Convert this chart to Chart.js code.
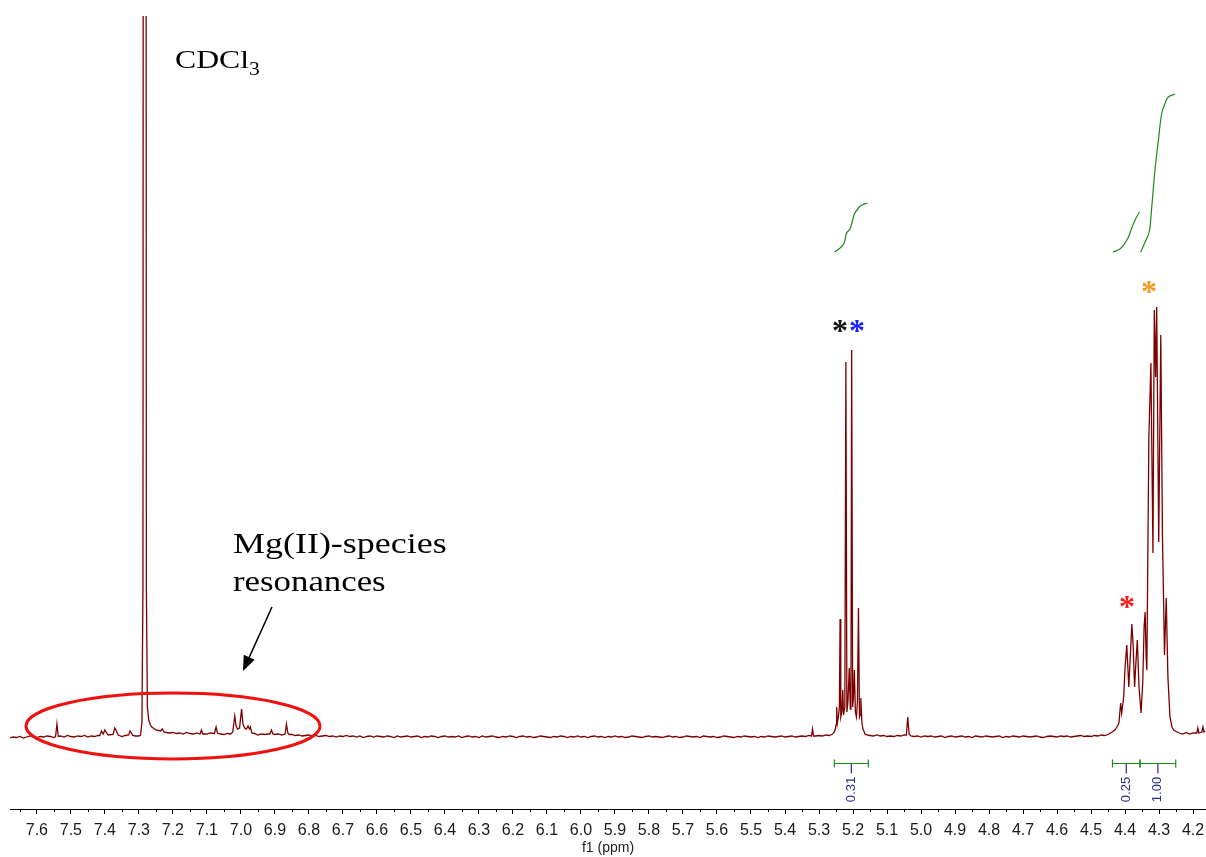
<!DOCTYPE html>
<html><head><meta charset="utf-8">
<script src="https://cdn.jsdelivr.net/npm/chart.js@4.4.1/dist/chart.umd.min.js"></script>
<style>html,body{margin:0;padding:0;background:#fff;}canvas{display:block;}</style>
</head><body>
<canvas id="c" width="1206" height="857"></canvas>
<script>
// ---- axis ticks (ppm) ----
const tickValues = [4.2,4.3,4.4,4.5,4.6,4.7,4.8,4.9,5.0,5.1,5.2,5.3,5.4,5.5,5.6,5.7,5.8,5.9,6.0,6.1,6.2,6.3,6.4,6.5,6.6,6.7,6.8,6.9,7.0,7.1,7.2,7.3,7.4,7.5,7.6];
const minorTickValues = [4.25,4.35,4.45,4.55,4.65,4.75,4.85,4.95,5.05,5.15,5.25,5.35,5.45,5.55,5.65,5.75,5.85,5.95,6.05,6.15,6.25,6.35,6.45,6.55,6.65,6.75,6.85,6.95,7.05,7.15,7.25,7.35,7.45,7.55,7.65];

// ---- baseline read every 0.01 ppm from 7.68 down to 4.17 ----
const baselineStartPpm = 7.68;
const baselineStepPpm = 0.01;
const baselineIntensity = [
 -1,0,-0.5,0.5,-1,0,1,0,-0.5,0.5,
 0,1,0.5,-0.5,0.5,1,0,1.5,0.5,0,
 1,0.5,1.5,0,1,0.5,1.5,1,2,1.5,
 1,2,1,0.5,1.5,1,2,1,0,1.5,
 2,14,9,7,5,6,4.5,4,4.5,3.5,
 4,3,4.5,3.5,3,4,3,3.5,3,4,
 3,3.5,3,2.5,3.5,3,4,3,3,3.5,
 3,2.5,3.5,2,3,2.5,3,2,2.5,3,
 2,2.5,2,2.5,1.5,2,1,1.5,2,1,
 1.5,0.5,1,1.5,0.5,1,0,1,0.5,1.5,
 0.5,1,0,1,-0.5,0.5,1,0,1,0.5,
 0,1,0.5,-0.5,1,0,0.5,1,0,0.5,
 1,-0.5,0.5,0,1,0.5,-0.5,0.5,1,0,
 0.5,0,1,-0.5,0.5,1,0,0.5,-0.5,1,
 0,0.5,1,0,-0.5,0.5,0,1,0.5,-0.5,
 0.5,1,0,0.5,-0.5,0,1,0.5,0,-0.5,
 0.5,0,1,0.5,-0.5,0.5,0,1,0,0.5,
 -0.5,0.5,1,0,0.5,-0.5,0.5,0,1,0,
 0.5,-0.5,0,1,0.5,0,-0.5,0.5,1,0,
 0.5,0,-0.5,0.5,1,0,0.5,-0.5,0,1,
 0.5,0,0.5,-0.5,1,0.5,0,0.5,-0.5,0,
 1,0.5,0,-0.5,0.5,0,1,0.5,0,0.5,
 -0.5,0.5,0,1,0.5,0,0.5,1,0,0.5,
 1,0,0.5,1,0.5,1.5,0.5,1,1.5,1,
 2,1.5,3,10,20,20,20,20,20,20,
 20,20,3,1.5,1,2,1,1.5,0.5,1,
 0.5,1.5,1,2,3,1,0.5,1,0,1,
 0.5,1,0,0.5,1,-0.5,0.5,1,0,0.5,
 1,0,0.5,-0.5,1,0.5,0,1,0.5,0,
 0.5,1,-0.5,0.5,0,1,0.5,0,1,0.5,
 0,0.5,1,0,-0.5,0.5,1,0.5,0,1,
 0.5,1,0,0.5,1,1.5,0.5,1,0.5,1.5,
 1,2,1.5,2.5,3,5,10,30,80,60,
 100,50,80,30,100,300,400,400,300,200,
 100,20,8,6,4,3,4.5,3,4,5,
 6,5
];

// ---- resolved signals (ppm, intensity) ----
const aromaticPpm = [7.545,7.541,7.537, 7.415,7.410,7.405,7.400,7.395,7.390, 7.376,7.371,7.366,7.361, 7.330,7.326,7.322,7.318,
 7.236,7.231,7.226, 7.120,7.116,7.112, 7.078,7.073,7.069, 7.024,7.018,7.014,7.010,7.004,6.998,6.994,6.989,6.984,6.979,6.975,6.972,6.968,
 6.915,6.910,6.906, 6.870,6.866,6.862,6.858];
const aromaticIntensity = [0.5,13,0.5, 1.5,6,3,7,4,2, 2.5,9,6,2, 2,6,4,1.5,
 6,8,5, 3,7,3, 3.5,10,4, 5,21,11,8,9,28,13,9,8,11,8,10,4,
 3,7,3, 3,13,4,2.5];
const solventPpm = [7.300,7.295,7.291,7.288,7.2865,7.2795,7.278,7.275,7.271,7.266,7.262];
const solventIntensity = [1,2,15,150,1500,1500,150,30,17,12,10];
const methinePpm = [5.322,5.319,5.316,
 5.260,5.255,5.252,5.250,5.248,5.246,5.243,5.240,5.238,5.236,5.233,5.230,5.228,5.224,5.221,5.218,5.215,5.211,5.208,5.206,5.204,5.201,5.199,5.196,5.193,5.190,5.187,5.184,5.181,5.179,5.177,5.174,5.171,5.168,5.165,5.160,
 5.043,5.039,5.035];
const methineIntensity = [1,8,1,
 3,5,8,12,30,14,20,30,118,20,25,47,22,30,375,25,35,69,28,40,387,30,38,67,25,20,35,129,20,22,39,15,8,6,3,2,
 2,20,3];
const methylenePpm = [4.438,4.430,4.424,4.418,4.413,4.410,4.404,4.400,4.395,4.389,4.384,4.380,4.376,4.372,4.368,4.364,4.359,4.353,4.348,4.344,4.341,4.338,4.336,
 4.324,4.318,4.314,4.310,4.307,4.301,4.295,4.290,4.284,4.279,4.274,4.268,4.262,4.257,4.253, 4.189,4.186,4.183, 4.174,4.171,4.168,4.165];
const methyleneIntensity = [5,7,10,14,34,24,40,70,92,50,85,113,90,50,75,97,50,24,55,110,125,80,67,
 374,184,427,360,430,195,402,200,82,139,60,20,10,7,6, 4,9,4, 5,10,5,6];

// ---- integral curves (ppm, intensity units) ----
const integral1Ppm = [5.255,5.238,5.226,5.219,5.209,5.201,5.196,5.184,5.174,5.157];
const integral1Val = [485,489,494,504,508,517,523,529,532,534];
const integral2Ppm = [4.436,4.415,4.400,4.390,4.377,4.366,4.358];
const integral2Val = [485,488,494,500,512,520,525];
const integral3Ppm = [4.354,4.341,4.329,4.3215,4.312,4.302,4.292,4.282,4.273,4.253];
const integral3Val = [485,495,505,530,567,597,624,634,640,643];

// ---- integration ranges & values ----
const integralFrom = [5.255,4.437,4.356];
const integralTo = [5.155,4.356,4.251];
const integralLabels = ['0.31','0.25','1.00'];

// ---- build spectrum ----
const signalPpm = [].concat(aromaticPpm, solventPpm, methinePpm, methylenePpm);
const signalInt = [].concat(aromaticIntensity, solventIntensity, methineIntensity, methyleneIntensity);
const spectrum = [];
baselineIntensity.forEach((v, i) => {
  const p = +(baselineStartPpm - baselineStepPpm * i).toFixed(3);
  if (!signalPpm.some(s => Math.abs(s - p) < 0.0041)) spectrum.push({x: p, y: v});
});
signalPpm.forEach((p, i) => spectrum.push({x: p, y: signalInt[i]}));
spectrum.sort((a, b) => b.x - a.x);
const pairs = (a, b) => a.map((p, i) => ({x: p, y: b[i]}));

const GREEN = '#1d8a1d';
const NAVY = '#2b2b95';

function stretchedText(ctx, txt, x, y, sx) {
  ctx.save(); ctx.translate(x, y); ctx.scale(sx, 1); ctx.fillText(txt, 0, 0); ctx.restore();
}
function star(ctx, cx, cy, color) {
  ctx.save();
  ctx.font = 'bold 32px "Liberation Serif"';
  ctx.fillStyle = color; ctx.textAlign = 'left'; ctx.textBaseline = 'alphabetic';
  const m = ctx.measureText('*');
  const w = m.actualBoundingBoxRight + m.actualBoundingBoxLeft;
  const h = m.actualBoundingBoxAscent + m.actualBoundingBoxDescent;
  ctx.fillText('*', cx - w / 2 + m.actualBoundingBoxLeft, cy + h / 2 - m.actualBoundingBoxDescent);
  ctx.restore();
}

const deco = {
  id: 'deco',
  afterDraw(chart) {
    const ctx = chart.ctx, xs = chart.scales.x, ca = chart.chartArea;
    ctx.save();
    // minor ticks
    ctx.strokeStyle = '#000'; ctx.lineWidth = 1;
    minorTickValues.forEach(v => {
      const px = Math.round(xs.getPixelForValue(v)) + 0.5;
      ctx.beginPath(); ctx.moveTo(px, ca.bottom); ctx.lineTo(px, ca.bottom + 3); ctx.stroke();
    });
    // integration bars
    integralFrom.forEach((f, i) => {
      const x1 = xs.getPixelForValue(f), x2 = xs.getPixelForValue(integralTo[i]);
      const cx = (x1 + x2) / 2, y = 763.5;
      ctx.strokeStyle = GREEN; ctx.lineWidth = 1.2;
      ctx.beginPath(); ctx.moveTo(x1, y); ctx.lineTo(x2, y);
      ctx.moveTo(x1, y - 4); ctx.lineTo(x1, y + 4);
      ctx.moveTo(x2, y - 4); ctx.lineTo(x2, y + 4); ctx.stroke();
      ctx.strokeStyle = NAVY;
      ctx.beginPath(); ctx.moveTo(cx, y); ctx.lineTo(cx, y + 10); ctx.stroke();
      ctx.save(); ctx.translate(cx, 789.5); ctx.rotate(-Math.PI / 2);
      ctx.fillStyle = NAVY; ctx.font = '13px "Liberation Sans"';
      ctx.textAlign = 'center'; ctx.textBaseline = 'middle';
      ctx.fillText(integralLabels[i], 0, 0); ctx.restore();
    });
    // text annotations
    ctx.fillStyle = '#000'; ctx.textBaseline = 'alphabetic'; ctx.textAlign = 'left';
    ctx.font = '26px "Liberation Serif"';
    stretchedText(ctx, 'CDCl', 175, 68, 1.22);
    const wC = ctx.measureText('CDCl').width * 1.22;
    ctx.font = '18px "Liberation Serif"';
    stretchedText(ctx, '3', 175 + wC, 75, 1.2);
    ctx.font = '29px "Liberation Serif"';
    stretchedText(ctx, 'Mg(II)-species', 233, 553, 1.24);
    stretchedText(ctx, 'resonances', 233, 591, 1.2);
    // arrow
    const ax0 = 272, ay0 = 607, ax1 = 243, ay1 = 671;
    const ang = Math.atan2(ay1 - ay0, ax1 - ax0);
    ctx.strokeStyle = '#000'; ctx.lineWidth = 1.5;
    ctx.beginPath(); ctx.moveTo(ax0, ay0);
    ctx.lineTo(ax1 - 12 * Math.cos(ang), ay1 - 12 * Math.sin(ang)); ctx.stroke();
    ctx.fillStyle = '#000';
    ctx.beginPath(); ctx.moveTo(ax1, ay1);
    ctx.lineTo(ax1 - 15 * Math.cos(ang) + 6 * Math.sin(ang), ay1 - 15 * Math.sin(ang) - 6 * Math.cos(ang));
    ctx.lineTo(ax1 - 15 * Math.cos(ang) - 6 * Math.sin(ang), ay1 - 15 * Math.sin(ang) + 6 * Math.cos(ang));
    ctx.closePath(); ctx.fill();
    // red ellipse
    ctx.strokeStyle = '#f01010'; ctx.lineWidth = 3;
    ctx.beginPath(); ctx.ellipse(173, 726, 147, 33, 0, 0, Math.PI * 2); ctx.stroke();
    // asterisks
    star(ctx, 840, 326, '#111111');
    star(ctx, 857, 326, '#1a1aff');
    star(ctx, 1149, 287, '#f39a1e');
    star(ctx, 1127, 602, '#ff1a1a');
    ctx.restore();
  }
};

new Chart(document.getElementById('c'), {
  type: 'line',
  data: {
    datasets: [
      {data: spectrum, borderColor: '#7d0000', borderWidth: 1.3, pointRadius: 0, tension: 0, fill: false},
      {data: pairs(integral1Ppm, integral1Val), borderColor: GREEN, borderWidth: 1.2, pointRadius: 0, tension: 0.35},
      {data: pairs(integral2Ppm, integral2Val), borderColor: GREEN, borderWidth: 1.2, pointRadius: 0, tension: 0.35},
      {data: pairs(integral3Ppm, integral3Val), borderColor: GREEN, borderWidth: 1.2, pointRadius: 0, tension: 0.35}
    ]
  },
  options: {
    responsive: false, animation: false, devicePixelRatio: 1,
    layout: {padding: {left: 10, right: 0, top: 16, bottom: 0}},
    plugins: {legend: {display: false}, tooltip: {enabled: false}},
    scales: {
      x: {
        type: 'linear', reverse: true, min: 4.162, max: 7.679,
        afterBuildTicks: s => { s.ticks = tickValues.map(v => ({value: v})); },
        afterFit: s => { s.height = 48; },
        grid: {display: true, drawOnChartArea: false, drawTicks: true, tickLength: 5, color: '#000', lineWidth: 1},
        border: {display: true, color: '#000', width: 1},
        ticks: {autoSkip: false, maxRotation: 0, padding: 7, color: '#1a1a1a',
                font: {family: 'Liberation Sans', size: 16}, callback: v => Number(v).toFixed(1)},
        title: {display: true, text: 'f1 (ppm)', color: '#222', font: {family: 'Liberation Sans', size: 14}, padding: {top: 0, bottom: 0}}
      },
      y: {display: false, min: -72, max: 721}
    }
  },
  plugins: [deco]
});
</script>
</body></html>
